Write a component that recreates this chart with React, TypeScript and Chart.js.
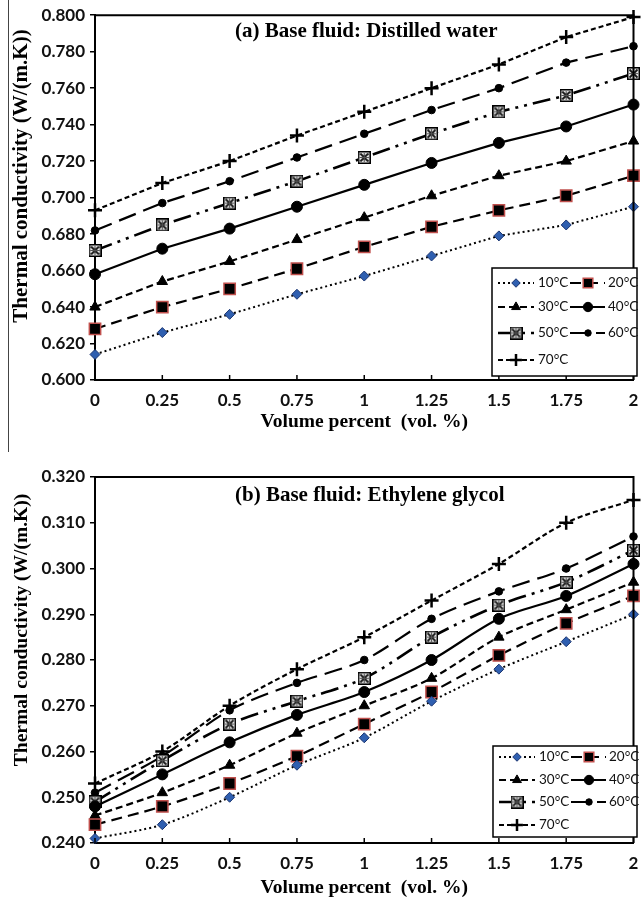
import React, { useEffect, useRef } from 'react';
import { Chart, registerables } from 'chart.js';
import { drawPoint } from 'chart.js/helpers';

Chart.register(...registerables);

// ---------- data ----------
const volumeLabels = ['0', '0.25', '0.5', '0.75', '1', '1.25', '1.5', '1.75', '2'];
const seriesNames = ['10°C', '20°C', '30°C', '40°C', '50°C', '60°C', '70°C'];

// (a) distilled water
const water10 = [0.614, 0.626, 0.636, 0.647, 0.657, 0.668, 0.679, 0.685, 0.695];
const water20 = [0.628, 0.640, 0.650, 0.661, 0.673, 0.684, 0.693, 0.701, 0.712];
const water30 = [0.640, 0.654, 0.665, 0.677, 0.689, 0.701, 0.712, 0.720, 0.731];
const water40 = [0.658, 0.672, 0.683, 0.695, 0.707, 0.719, 0.730, 0.739, 0.751];
const water50 = [0.671, 0.685, 0.697, 0.709, 0.722, 0.735, 0.747, 0.756, 0.768];
const water60 = [0.682, 0.697, 0.709, 0.722, 0.735, 0.748, 0.760, 0.774, 0.783];
const water70 = [0.693, 0.708, 0.720, 0.734, 0.747, 0.760, 0.773, 0.788, 0.799];

// (b) ethylene glycol
const eg10 = [0.241, 0.244, 0.250, 0.257, 0.263, 0.271, 0.278, 0.284, 0.290];
const eg20 = [0.244, 0.248, 0.253, 0.259, 0.266, 0.273, 0.281, 0.288, 0.294];
const eg30 = [0.246, 0.251, 0.257, 0.264, 0.270, 0.276, 0.285, 0.291, 0.297];
const eg40 = [0.248, 0.255, 0.262, 0.268, 0.273, 0.280, 0.289, 0.294, 0.301];
const eg50 = [0.249, 0.258, 0.266, 0.271, 0.276, 0.285, 0.292, 0.297, 0.304];
const eg60 = [0.251, 0.259, 0.269, 0.275, 0.280, 0.289, 0.295, 0.300, 0.307];
const eg70 = [0.253, 0.260, 0.270, 0.278, 0.285, 0.293, 0.301, 0.310, 0.315];

const waterTitle = '(a) Base fluid: Distilled water';
const egTitle = '(b) Base fluid: Ethylene glycol';
const yAxisTitle = 'Thermal conductivity (W/(m.K))';
const xAxisTitle = 'Volume percent  (vol. %)';

// ---------- styling ----------
function makeStarBox(size: number) {
  const c = document.createElement('canvas');
  c.width = size;
  c.height = size;
  const g = c.getContext('2d')!;
  g.fillStyle = '#f2f2f2';
  g.fillRect(0, 0, size, size);
  g.strokeStyle = '#111';
  g.lineWidth = 1.8;
  g.beginPath();
  g.moveTo(2.5, 2.5); g.lineTo(size - 2.5, size - 2.5);
  g.moveTo(size - 2.5, 2.5); g.lineTo(2.5, size - 2.5);
  g.stroke();
  g.strokeStyle = '#555';
  g.lineWidth = 1.2;
  g.beginPath();
  g.moveTo(size / 2, 2); g.lineTo(size / 2, size - 2);
  g.moveTo(2, size / 2); g.lineTo(size - 2, size / 2);
  g.stroke();
  g.strokeStyle = '#000';
  g.lineWidth = 1.5;
  g.strokeRect(0.75, 0.75, size - 1.5, size - 1.5);
  return c;
}

function seriesStyles(star: HTMLCanvasElement) {
  return [
    { dash: [2, 3], width: 2, pointStyle: 'rectRot', radius: 5, bg: '#2f5fb0', border: '#1b3570', pbw: 1 },
    { dash: [11, 6], width: 2.2, pointStyle: 'rect', radius: 8, bg: '#000', border: '#c0504d', pbw: 1.5 },
    { dash: [7, 4], width: 2.2, pointStyle: 'triangle', radius: 6, bg: '#000', border: '#000', pbw: 1 },
    { dash: [], width: 2.2, pointStyle: 'circle', radius: 5.5, bg: '#000', border: '#000', pbw: 1 },
    { dash: [18, 6, 3, 6, 3, 6], width: 2.6, pointStyle: star, radius: 6.5, bg: '#f2f2f2', border: '#000', pbw: 1 },
    { dash: [18, 8], width: 2.2, pointStyle: 'circle', radius: 3.8, bg: '#000', border: '#000', pbw: 1 },
    { dash: [5, 3], width: 2.2, pointStyle: 'cross', radius: 7, bg: '#000', border: '#000', pbw: 2.5 },
  ];
}

const decorPlugin = {
  id: 'decor',
  afterDraw(chart: any, _args: any, o: any) {
    const { ctx, chartArea: a } = chart;
    ctx.save();
    ctx.setLineDash([]);
    // top/right frame
    ctx.strokeStyle = '#000';
    ctx.lineWidth = 2;
    ctx.beginPath();
    ctx.moveTo(a.left, a.top);
    ctx.lineTo(a.right, a.top);
    ctx.lineTo(a.right, a.bottom);
    ctx.stroke();
    // inner x tick marks
    const xs = chart.scales.x;
    ctx.lineWidth = 1.5;
    xs.ticks.forEach((_t: any, i: number) => {
      const px = xs.getPixelForTick(i);
      ctx.beginPath();
      ctx.moveTo(px, a.bottom);
      ctx.lineTo(px, a.bottom - 5);
      ctx.stroke();
    });
    // inner title
    ctx.fillStyle = '#000';
    ctx.textBaseline = 'middle';
    ctx.textAlign = 'left';
    ctx.font = `bold ${o.titleSize}px "Liberation Serif"`;
    ctx.fillText(o.title, o.titleX, o.titleY);
    // x title
    ctx.textAlign = 'center';
    ctx.font = `bold ${o.xTitleSize}px "Liberation Serif"`;
    ctx.fillText(o.xTitle, (a.left + a.right) / 2, o.xTitleY);
    // y title
    ctx.save();
    ctx.translate(o.yTitleX, o.yTitleY);
    ctx.rotate(-Math.PI / 2);
    ctx.font = `bold ${o.yTitleSize}px "Liberation Serif"`;
    ctx.fillText(o.yTitle, 0, 0);
    ctx.restore();

    // legend
    const L = o.legend;
    ctx.fillStyle = '#fff';
    ctx.fillRect(L.x, L.y, L.w, L.h);
    ctx.strokeStyle = '#000';
    ctx.lineWidth = 1.5;
    ctx.strokeRect(L.x, L.y, L.w, L.h);
    chart.data.datasets.forEach((ds: any, i: number) => {
      const col = i % 2;
      const row = Math.floor(i / 2);
      const cy = L.y + L.rows[row];
      const x0 = L.x + (col === 0 ? 6 : 78);
      const x1 = L.x + (col === 0 ? 42 : 113);
      const mx = L.x + (col === 0 ? 24 : 96);
      const tx = L.x + (col === 0 ? 46 : 116);
      ctx.save();
      ctx.strokeStyle = '#000';
      ctx.lineWidth = ds.borderWidth;
      ctx.setLineDash(ds.borderDash);
      ctx.beginPath();
      ctx.moveTo(x0, cy);
      ctx.lineTo(x1, cy);
      ctx.stroke();
      ctx.setLineDash([]);
      ctx.fillStyle = ds.pointBackgroundColor;
      ctx.strokeStyle = ds.pointBorderColor;
      ctx.lineWidth = ds.pointBorderWidth;
      drawPoint(ctx, { pointStyle: ds.pointStyle, radius: ds.pointRadius * 0.85, rotation: 0, borderWidth: ds.pointBorderWidth } as any, mx, cy);
      ctx.restore();
      ctx.fillStyle = '#111';
      ctx.textAlign = 'left';
      ctx.textBaseline = 'middle';
      ctx.font = `${L.fontSize}px Lato`;
      ctx.fillText(ds.label, tx, cy);
    });
    ctx.restore();
  },
};

function buildConfig(p: any) {
  const star = makeStarBox(13);
  const st = seriesStyles(star);
  const datasets = p.series.map((data: number[], i: number) => ({
    label: seriesNames[i],
    data,
    borderColor: '#000',
    borderWidth: st[i].width,
    borderDash: st[i].dash,
    pointStyle: st[i].pointStyle,
    pointRadius: st[i].radius,
    pointBackgroundColor: st[i].bg,
    pointBorderColor: st[i].border,
    pointBorderWidth: st[i].pbw,
    tension: p.tension,
    fill: false,
    clip: false,
  }));
  const tickFont = { family: 'Lato', weight: 'bold' as const, size: 17 };
  return {
    type: 'line' as const,
    data: { labels: volumeLabels, datasets },
    options: {
      responsive: false,
      animation: false as const,
      devicePixelRatio: 1,
      layout: { padding: { left: 0, right: 6, top: p.padTop, bottom: 0 } },
      plugins: {
        legend: { display: false },
        tooltip: { enabled: false },
        decor: p.decor,
      },
      scales: {
        x: {
          type: 'category' as const,
          offset: false,
          grid: { display: false },
          border: { display: true, color: '#000', width: 2 },
          ticks: { font: tickFont, color: '#111', padding: p.xTickPad, maxRotation: 0, autoSkip: false },
          afterFit: (s: any) => { s.height = p.xAxisH; },
        },
        y: {
          min: p.yMin,
          max: p.yMax,
          ticks: {
            stepSize: p.yStep,
            font: tickFont,
            color: '#111',
            padding: 5,
            callback: (v: any) => Number(v).toFixed(3),
          },
          grid: { drawOnChartArea: false, drawTicks: true, tickLength: 5, color: '#000', lineWidth: 1.5 },
          border: { display: true, color: '#000', width: 2 },
          afterFit: (s: any) => { s.width = 95; },
        },
      },
    },
    plugins: [decorPlugin],
  };
}

const panelA = {
  top: 0,
  height: 440,
  padTop: 15,
  xAxisH: 60,
  xTickPad: 2,
  yMin: 0.6,
  yMax: 0.8,
  yStep: 0.02,
  tension: 0,
  series: [water10, water20, water30, water40, water50, water60, water70],
  decor: {
    title: waterTitle, titleSize: 21, titleX: 235, titleY: 32,
    xTitle: xAxisTitle, xTitleSize: 19.5, xTitleY: 422,
    yTitle: yAxisTitle, yTitleSize: 21, yTitleX: 22, yTitleY: 176,
    legend: { x: 492, y: 268, w: 145, h: 108, rows: [15, 39, 65, 92], fontSize: 13.5 },
  },
};

const panelB = {
  top: 440,
  height: 461,
  padTop: 37,
  xAxisH: 58,
  xTickPad: 2,
  yMin: 0.24,
  yMax: 0.32,
  yStep: 0.01,
  tension: 0.3,
  series: [eg10, eg20, eg30, eg40, eg50, eg60, eg70],
  decor: {
    title: egTitle, titleSize: 21, titleX: 235, titleY: 56,
    xTitle: xAxisTitle, xTitleSize: 19.5, xTitleY: 448,
    yTitle: yAxisTitle, yTitleSize: 19.5, yTitleX: 22, yTitleY: 190,
    legend: { x: 493, y: 306, w: 144, h: 91, rows: [11, 34, 56, 79], fontSize: 13.5 },
  },
};

function ChartPanel({ cfg }: { cfg: any }) {
  const ref = useRef<HTMLCanvasElement>(null);
  useEffect(() => {
    const chart = new Chart(ref.current!, buildConfig(cfg) as any);
    return () => chart.destroy();
  }, [cfg]);
  return (
    <canvas
      ref={ref}
      width={643}
      height={cfg.height}
      style={{ position: 'absolute', left: 0, top: cfg.top, width: 643, height: cfg.height }}
    />
  );
}

export default function App() {
  return (
    <div style={{ position: 'absolute', left: 0, top: 0, width: 643, height: 901, background: '#fff', overflow: 'hidden' }}>
      <ChartPanel cfg={panelA} />
      <ChartPanel cfg={panelB} />
      <div style={{ position: 'absolute', left: 8, top: 0, width: 1, height: 452, background: '#444' }} />
    </div>
  );
}
